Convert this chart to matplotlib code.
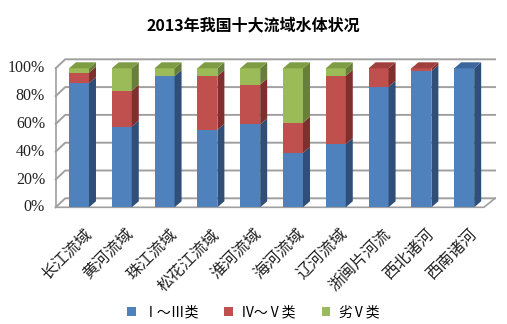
import matplotlib
matplotlib.use("Agg")
import matplotlib.pyplot as plt
from matplotlib.patches import Polygon, Patch

# 2013 water quality of China's ten major river basins (% of monitored sections)
basins = ["长江流域", "黄河流域", "珠江流域", "松花江流域", "淮河流域",
          "海河流域", "辽河流域", "浙闽片河流", "西北诸河", "西南诸河"]
grade_1_3 = [89.4, 58.1, 94.4, 55.7, 59.6, 39.1, 45.5, 86.7, 98.0, 100.0]
grade_4_5 = [7.5, 25.8, 0.0, 38.7, 28.7, 21.8, 49.1, 13.3, 2.0, 0.0]
grade_bad = [3.1, 16.1, 5.6, 5.6, 11.7, 39.1, 5.4, 0.0, 0.0, 0.0]
series_names = ["Ⅰ～Ⅲ类", "Ⅳ～Ⅴ类", "劣Ⅴ类"]
yticks = [0, 20, 40, 60, 80, 100]

front_cols = ["#4F81BD", "#C0504D", "#9BBB59"]
side_cols = ["#2F4E78", "#7F302E", "#687F39"]
top_cols = ["#3B679C", "#A13F3C", "#7E9C44"]

cjk = ["Noto Sans CJK SC", "DejaVu Sans"]

fig = plt.figure(figsize=(5.07, 3.24), dpi=100)
W, H = 507.0, 324.0
# axes box in pixels: left 55.7, right 495, 0% at y=207.3, top at y=59.3
ax = fig.add_axes([55.7 / W, (H - 207.3) / H, (495 - 55.7) / W, (207.3 - 59.3) / H])
xl, xr = -0.544, -0.544 + (495 - 55.7) / 42.8
ax.set_xlim(xl, xr)
ax.set_ylim(0, 100 + 9 / 1.39)
ax.axis("off")

# wall / floor depth and bar depth in data units
wdx, wdy = 9.5 / 42.8, 9 / 1.39
bdx, bdy = 7 / 42.8, 6 / 1.39
floor_r = 9.46
grid_c = "#A0A0A0"

# left wall edge, diagonal and back-wall gridlines
ax.plot([xl, xl], [0, 100], color=grid_c, lw=1.2, zorder=1, clip_on=False)
for v in yticks:
    ax.plot([xl, xl + wdx, xr], [v, v + wdy, v + wdy], color=grid_c, lw=1.4,
            zorder=1, clip_on=False)
    ax.text(xl - 0.25, v, "%d%%" % v, ha="right", va="center", fontsize=11.5,
            family="Liberation Serif", color="#222222")
# floor outline
ax.plot([xl, floor_r, xr], [0, 0, wdy], color=grid_c, lw=1.2, zorder=1, clip_on=False)

bw = 20 / 42.8
series = [grade_1_3, grade_4_5, grade_bad]
for i in range(len(basins)):
    bottom = 0.0
    last = 0
    for s, vals in enumerate(series):
        h = vals[i]
        if h <= 0:
            continue
        ax.bar(i, h, width=bw, bottom=bottom, color=front_cols[s], zorder=3)
        xr_b = i + bw / 2
        ax.add_patch(Polygon([(xr_b, bottom), (xr_b + bdx, bottom + bdy),
                              (xr_b + bdx, bottom + h + bdy), (xr_b, bottom + h)],
                             closed=True, facecolor=side_cols[s], edgecolor="none", zorder=3))
        bottom += h
        last = s
    xl_b = i - bw / 2
    ax.add_patch(Polygon([(xl_b, bottom), (xl_b + bdx, bottom + bdy),
                          (xl_b + bw + bdx, bottom + bdy), (xl_b + bw, bottom)],
                         closed=True, facecolor=top_cols[last], edgecolor="none", zorder=3))
    ax.text(i + 0.09, -13.5, basins[i], rotation=45, rotation_mode="anchor",
            ha="right", va="top", fontsize=11.5, family=cjk, color="#222222")

fig.text(0.5, 1 - 25 / H, "2013年我国十大流域水体状况", ha="center", va="center",
         fontsize=11.5, fontweight="bold", family=cjk)

handles = [Patch(facecolor=c, edgecolor="none") for c in front_cols]
fig.legend(handles, series_names, loc="center", bbox_to_anchor=(0.5, 1 - 312 / H),
           ncol=3, frameon=False, prop={"family": cjk, "size": 10},
           handlelength=0.6, handleheight=0.6, handletextpad=0.6, columnspacing=1.8)

fig.savefig("out.png", dpi=100)
